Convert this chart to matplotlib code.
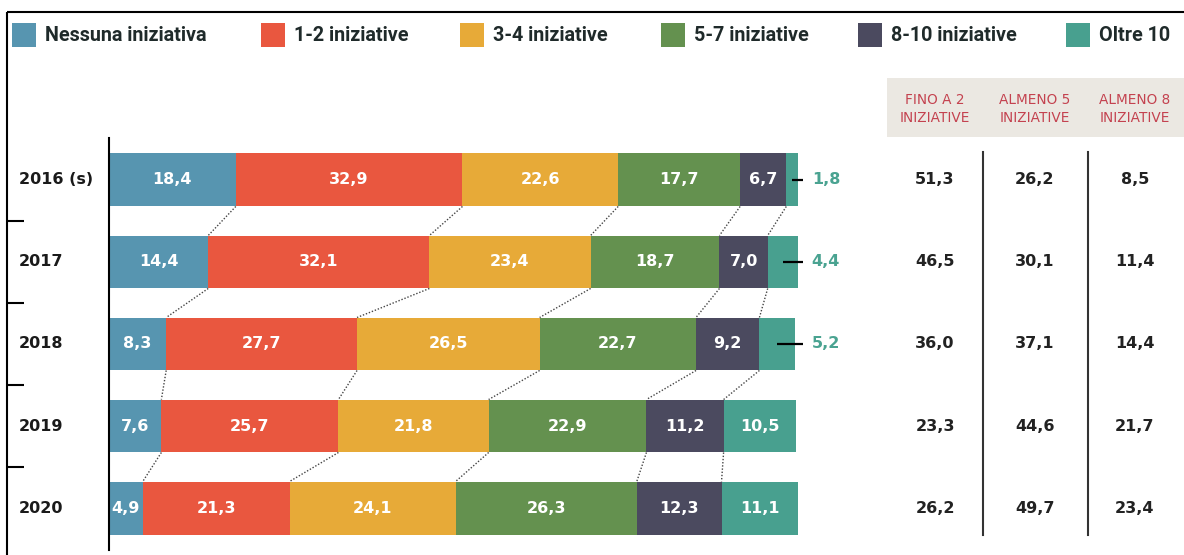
import matplotlib
matplotlib.use("Agg")
import matplotlib.pyplot as plt
from matplotlib.patches import Rectangle
import numpy as np

# ---------------- data ----------------
years = ["2016 (s)", "2017", "2018", "2019", "2020"]
categories = ["Nessuna iniziativa", "1-2 iniziative", "3-4 iniziative",
              "5-7 iniziative", "8-10 iniziative", "Oltre 10"]
nessuna = [18.4, 14.4, 8.3, 7.6, 4.9]
iniz_1_2 = [32.9, 32.1, 27.7, 25.7, 21.3]
iniz_3_4 = [22.6, 23.4, 26.5, 21.8, 24.1]
iniz_5_7 = [17.7, 18.7, 22.7, 22.9, 26.3]
iniz_8_10 = [6.7, 7.0, 9.2, 11.2, 12.3]
oltre_10 = [1.8, 4.4, 5.2, 10.5, 11.1]

table_headers = ["FINO A 2\nINIZIATIVE", "ALMENO 5\nINIZIATIVE", "ALMENO 8\nINIZIATIVE"]
fino_a_2 = [51.3, 46.5, 36.0, 23.3, 26.2]
almeno_5 = [26.2, 30.1, 37.1, 44.6, 49.7]
almeno_8 = [8.5, 11.4, 14.4, 21.7, 23.4]

colors = ["#5795b0", "#e9573f", "#e7aa38", "#64914f", "#4b4a5f", "#48a08f"]

def fmt(v):
    return f"{v:.1f}".replace(".", ",")

# ---------------- figure ----------------
W, H = 1184, 555
fig = plt.figure(figsize=(W / 100, H / 100), dpi=100)
fig.patch.set_facecolor("white")

# overlay axes in pixel coordinates for frame / legend / header box
ov = fig.add_axes([0, 0, 1, 1])
ov.set_xlim(0, W)
ov.set_ylim(H, 0)
ov.axis("off")

# frame (top + left)
ov.plot([7, W], [12, 12], color="black", lw=1.5, solid_capstyle="butt")
ov.plot([7, 7], [12, H], color="black", lw=1.5, solid_capstyle="butt")

# legend
leg_x = [12, 261, 460, 661, 858, 1066]
for x, lab, c in zip(leg_x, categories, colors):
    ov.add_patch(Rectangle((x, 23), 24, 24, color=c, lw=0))
    ov.text(x + 33, 35.5, lab, ha="left", va="center", fontsize=14.2,
            family="Roboto", fontweight="bold", color="#1f2a2a")

# header box
ov.add_patch(Rectangle((887, 78), W - 887, 59, color="#ebe8e2", lw=0))

# ---------------- bar axes ----------------
ax = fig.add_axes([109 / W, (H - 550) / H, 689 / W, 412 / H])
ax.set_xlim(0, 100)
ax.set_ylim(4.512, -0.512)
ax.patch.set_alpha(0)
for s in ["top", "right", "bottom"]:
    ax.spines[s].set_visible(False)
ax.spines["left"].set_linewidth(1.5)
ax.spines["left"].set_color("black")
ax.set_xticks([])
ax.set_yticks([])

series = [nessuna, iniz_1_2, iniz_3_4, iniz_5_7, iniz_8_10, oltre_10]
data = np.array(series)  # shape (6, 5)
y = np.arange(len(years))
bh = 0.646
lefts = np.zeros(len(years))
for k, (vals, c) in enumerate(zip(data, colors)):
    ax.barh(y, vals, left=lefts, height=bh, color=c, lw=0)
    for i, v in enumerate(vals):
        if k == 5 and v < 6:
            continue
        ax.text(lefts[i] + v / 2, y[i], fmt(v), ha="center", va="center",
                color="white", fontsize=11.5, fontweight="bold")
    lefts = lefts + vals

# outside labels for small "Oltre 10"
cum_before_last = data[:5].sum(axis=0)
for i, v in enumerate(oltre_10):
    if v < 6:
        start = cum_before_last[i] + v / 2
        ax.plot([start, 100.7], [y[i], y[i]], color="black", lw=1.6,
                clip_on=False, solid_capstyle="butt")
        ax.text(102.0, y[i], fmt(v), ha="left", va="center", color="#4aa391",
                fontsize=11.5, fontweight="bold", clip_on=False)

# dotted connectors between segment boundaries
cums = np.cumsum(data, axis=0)[:5]  # interior boundaries
for i in range(len(years) - 1):
    for k in range(5):
        ax.plot([cums[k, i], cums[k, i + 1]], [y[i] + bh / 2, y[i + 1] - bh / 2],
                color="#444444", lw=1.0, linestyle=(0, (1, 1.3)))

# year labels and left ticks
for i, lab in enumerate(years):
    ax.text(-90 / 6.89, y[i], lab, ha="left", va="center", fontsize=11.5,
            fontweight="bold", color="#1a1a1a", clip_on=False)
for i in range(len(years) - 1):
    ax.plot([-102 / 6.89, -85 / 6.89], [y[i] + 0.5, y[i] + 0.5], color="black",
            lw=1.5, clip_on=False, solid_capstyle="butt")

# ---------------- right table ----------------
tx = fig.add_axes([880 / W, (H - 550) / H, (W - 880) / W, 412 / H])
tx.set_xlim(880, W)
tx.set_ylim(4.512, -0.512)
tx.axis("off")
tx.patch.set_alpha(0)
col_x = [935, 1035, 1135]
for cx, hdr in zip(col_x, table_headers):
    ov.text(cx, 109, hdr, ha="center", va="center", fontsize=9.8,
            color="#c4424f", linespacing=1.3, family="DejaVu Sans")
for cx, vals in zip(col_x, [fino_a_2, almeno_5, almeno_8]):
    for i, v in enumerate(vals):
        tx.text(cx, y[i], fmt(v), ha="center", va="center", fontsize=11.5,
                fontweight="bold", color="#222222")
for lx in [983, 1088]:
    tx.plot([lx, lx], [-0.34, 4.33], color="#333333", lw=1.5)

fig.savefig("out.png", dpi=100)
